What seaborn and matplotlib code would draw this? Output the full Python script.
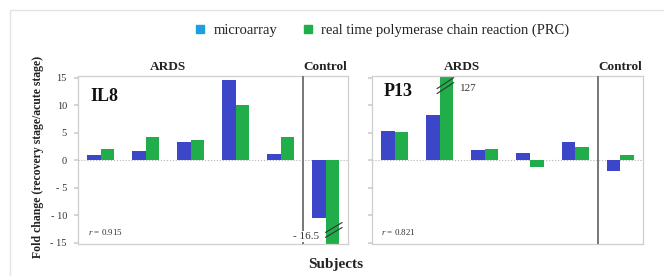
import numpy as np
import pandas as pd
import matplotlib.pyplot as plt
import seaborn as sns
from matplotlib.lines import Line2D
import matplotlib.transforms as mtrans

# values
subjects = ["A1", "A2", "A3", "A4", "A5", "C1"]
methods = ["microarray", "real time polymerase chain reaction (PRC)"]

il8_micro = [1.0, 1.6, 3.4, 14.6, 1.1, -10.5]
il8_pcr = [2.0, 4.2, 3.6, 10.0, 4.2, -16.5]
p13_micro = [5.4, 8.3, 1.8, 1.4, 3.4, -2.0]
p13_pcr = [5.2, 127.0, 2.0, -1.3, 2.4, 1.0]

yticks = [15, 10, 5, 0, -5, -10, -15]
ytick_labels = ["15", "10", "5", "0", "- 5", "- 10", "- 15"]

bar_colors = ["#3b46c8", "#22ad4b"]
legend_colors = ["#1d9fe0", "#22ad4b"]


def long_frame(micro, pcr):
    return pd.DataFrame({
        "subject": subjects * 2,
        "method": [methods[0]] * len(subjects) + [methods[1]] * len(subjects),
        "fold": micro + pcr,
    })


sns.set_theme(style="white")
plt.rcParams['font.family'] = ['Liberation Serif', 'DejaVu Serif']
plt.rcParams['mathtext.fontset'] = 'custom'
plt.rcParams['mathtext.it'] = 'Liberation Serif:italic'

fig = plt.figure(figsize=(6.64, 2.76), dpi=100)
ax1 = fig.add_axes([0.1175, 0.116, 0.4066, 0.6087])
ax2 = fig.add_axes([0.5602, 0.116, 0.4081, 0.6087])

panels = [
    (ax1, long_frame(il8_micro, il8_pcr), "IL8", (0.044, 0.875), "$r$ = 0.915", 0.037),
    (ax2, long_frame(p13_micro, p13_pcr), "P13", (0.044, 0.905), "$r$ = 0.821", 0.033),
]

for ax, df, name, name_pos, r_text, r_x in panels:
    sns.barplot(data=df, x="subject", y="fold", hue="method", order=subjects,
                hue_order=methods, palette=bar_colors, width=0.6, saturation=1,
                legend=False, ax=ax, linewidth=0)
    ax.set_xlim(-0.5, 5.5)
    ax.set_ylim(-15.2, 15.3)
    ax.axhline(0, color="#b5b5b5", lw=0.8, ls=":", zorder=0)
    ax.axvline(4.5, color="#777777", lw=1.4, zorder=3)
    for sp in ax.spines.values():
        sp.set_color("#cfcfcf")
        sp.set_linewidth(0.9)
    ax.set_xticks([4.5])
    ax.set_xticklabels([""])
    ax.tick_params(axis="x", length=3, color="#777777", width=1)
    ax.set_yticks(yticks)
    ax.tick_params(axis="y", length=3, color="#cfcfcf", pad=5,
                   labelsize=7.5, labelcolor="#333333", left=True)
    ax.set_xlabel("")
    ax.set_ylabel("")

    trans = mtrans.blended_transform_factory(ax.transData, ax.transAxes)
    ax.text(1.5, 1.055, "ARDS", transform=trans, ha="center", va="center",
            fontsize=9.5, fontweight="bold", color="#222222")
    ax.text(5, 1.055, "Control", transform=trans, ha="center", va="center",
            fontsize=9.5, fontweight="bold", color="#222222")
    ax.text(name_pos[0], name_pos[1], name, transform=ax.transAxes,
            ha="left", va="center", fontsize=13, fontweight="bold", color="#111111")
    ax.text(r_x, 0.07, r_text, transform=ax.transAxes, ha="left", va="center",
            fontsize=6.5, color="#333333",
            bbox=dict(facecolor="white", edgecolor="none", pad=1.5))

ax1.set_yticklabels(ytick_labels)
ax2.set_yticklabels([""] * len(yticks))

# axis break marks on clipped bars
for dy in (0, 0.9):
    ax1.plot([5.0, 5.37], [-14.0 + dy, -12.2 + dy], color="#333333", lw=0.8, zorder=4,
             clip_on=False)
    ax2.plot([0.94, 1.31], [12.1 + dy, 14.1 + dy], color="#333333", lw=0.8, zorder=4,
             clip_on=False)
ax1.text(4.86, -13.8, "- 16.5", ha="right", va="center", fontsize=8, color="#333333",
         zorder=5, bbox=dict(facecolor="white", edgecolor="none", pad=0.8))
ax2.text(1.45, 13.0, "127", ha="left", va="center", fontsize=8, color="#333333")

fig.text(0.057, 0.43, "Fold change (recovery stage/acute stage)", rotation=90,
         ha="center", va="center", fontsize=8.5, fontweight="bold", color="#222222")
fig.text(0.505, 0.04, "Subjects", ha="center", va="center", fontsize=11,
         fontweight="bold", color="#222222")

handles = [Line2D([], [], marker="s", ls="", color=c, markersize=6) for c in legend_colors]
fig.legend(handles, methods, loc="center", bbox_to_anchor=(0.574, 0.891), ncol=2,
           frameon=False, fontsize=10.5, handletextpad=0.4, columnspacing=1.6,
           handlelength=1.0, labelcolor="#222222")

# faint outer frame
fig.add_artist(Line2D([10 / 664, 1], [1 - 10 / 276] * 2, transform=fig.transFigure,
                      color="#e4e4e4", lw=1))
fig.add_artist(Line2D([10 / 664] * 2, [0, 1 - 10 / 276], transform=fig.transFigure,
                      color="#e4e4e4", lw=1))

fig.savefig("out.png", dpi=100)
